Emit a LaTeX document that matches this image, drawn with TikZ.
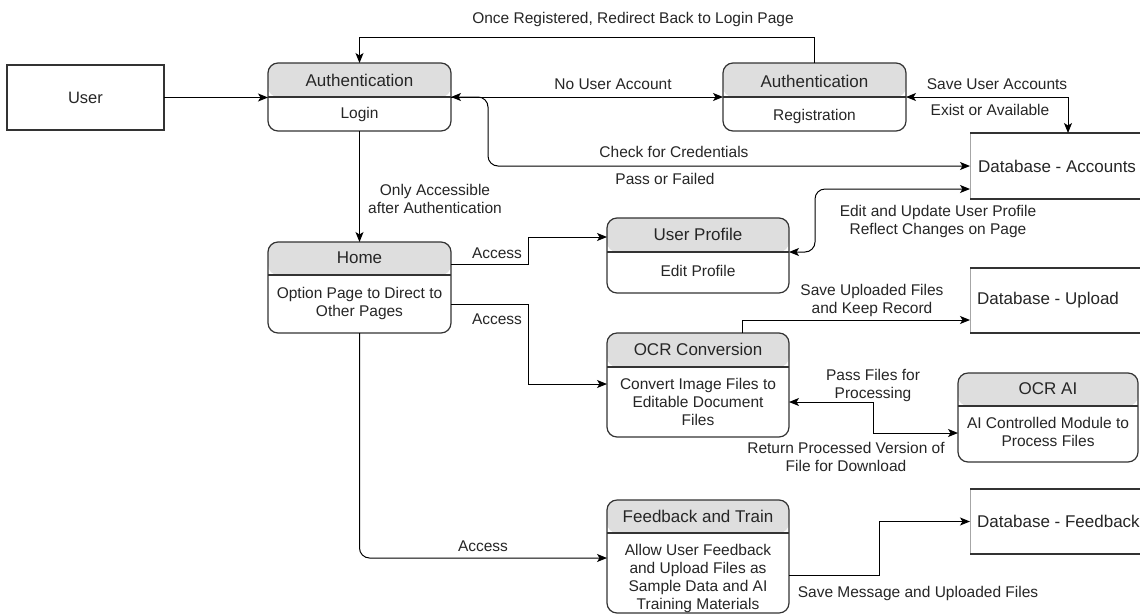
\documentclass[tikz,border=0pt]{standalone}
\usepackage{fontspec}
\setmainfont{Liberation Sans}
\usetikzlibrary{arrows.meta,calc}
\definecolor{hdrgray}{HTML}{DEDEDE}
\definecolor{ink}{HTML}{262626}
\definecolor{edgec}{HTML}{333333}
\tikzset{
  lbl/.style={font=\fontsize{15.5}{18}\selectfont, text=ink, inner sep=0pt, align=center},
  hdrtext/.style={font=\fontsize{17}{20}\selectfont, text=ink, inner sep=0pt},
  dbtext/.style={font=\fontsize{17}{20}\selectfont, text=ink, inner sep=0pt, anchor=west},
  procbox/.style={draw=edgec, line width=1.2pt, rounded corners=10pt, inner sep=0pt, outer sep=0pt,
    path picture={
      \fill[hdrgray] (path picture bounding box.north west) rectangle ([yshift=-#1 pt]path picture bounding box.north east);
      \draw[edgec, line width=1.2pt] ([yshift=-#1 pt]path picture bounding box.north west) -- ([yshift=-#1 pt]path picture bounding box.north east);
    }},
  userbox/.style={draw=edgec, line width=1.2pt, inner sep=0pt, outer sep=0pt},
  dbnode/.style={inner sep=0pt, outer sep=0pt},
  dbthick/.style={draw=edgec, line width=2.4pt},
  dbthin/.style={draw=gray!70, line width=0.8pt},
  conn/.style={draw=black, line width=1pt, -{Stealth[length=10pt,width=8pt,inset=2.5pt]}},
  biconn/.style={draw=black, line width=1pt, {Stealth[length=10pt,width=8pt,inset=2.5pt]}-{Stealth[length=10pt,width=8pt,inset=2.5pt]}},
}
\begin{document}
\begin{tikzpicture}[x=1pt,y=-1pt]
\useasboundingbox (0,0) rectangle (1140,614);
\clip (0,0) rectangle (1140,614);
\fill[white] (0,0) rectangle (1140,614);

% ---- boxes ----
\node[userbox, minimum width=157pt, minimum height=65pt] (user) at (85.5,97.5) {};
\node[font=\fontsize{16.5}{20}\selectfont, text=ink, inner sep=0pt] (user-t) at (85.5,97.5) {User};

\node[procbox=34, minimum width=183pt, minimum height=68pt] (login) at (359.5,97) {};
\node[hdrtext] (login-h) at (359.5,80) {Authentication};
\node[lbl] (login-b) at (359.5,114) {Login};

\node[procbox=34, minimum width=183pt, minimum height=68pt] (reg) at (814.5,97) {};
\node[hdrtext] (reg-h) at (814.5,81) {Authentication};
\node[lbl] (reg-b) at (814.5,116) {Registration};

\node[procbox=34, minimum width=182pt, minimum height=75pt] (prof) at (698,255.5) {};
\node[hdrtext] (prof-h) at (698,234.5) {User Profile};
\node[lbl] (prof-b) at (698,271) {Edit Profile};

\node[procbox=33, minimum width=183pt, minimum height=91pt] (home) at (359.5,287.5) {};
\node[hdrtext] (home-h) at (359.5,258) {Home};
\node[lbl] (home-b) at (359.5,303) {Option Page to Direct to\\Other Pages};

\node[procbox=34, minimum width=182pt, minimum height=104pt] (ocr) at (698,385) {};
\node[hdrtext] (ocr-h) at (698,349.5) {OCR Conversion};
\node[lbl] (ocr-b) at (698,402) {Convert Image Files to\\Editable Document\\Files};

\node[procbox=33, minimum width=180pt, minimum height=89pt] (ai) at (1048,417.5) {};
\node[hdrtext] (ai-h) at (1048,389) {OCR AI};
\node[lbl] (ai-b) at (1048,432) {AI Controlled Module to\\Process Files};

\node[procbox=33, minimum width=182pt, minimum height=113pt] (fb) at (698,556.5) {};
\node[hdrtext] (fb-h) at (698,516.5) {Feedback and Train};
\node[lbl] (fb-b) at (698,578) {Allow User Feedback\\and Upload Files as\\Sample Data and AI\\Training Materials};

% ---- data stores ----
\node[dbnode, minimum width=176pt, minimum height=66pt] (dbacc) at (1058,166) {};
\node[dbnode, minimum width=176pt, minimum height=65pt] (dbup) at (1058,300.5) {};
\node[dbnode, minimum width=176pt, minimum height=65pt] (dbfb) at (1058,521.5) {};
\foreach \d in {dbacc,dbup,dbfb}{
  \draw[dbthin] (\d.north west) -- (\d.south west);
  \draw[dbthick] (\d.north west) -- (\d.north east);
  \draw[dbthick] (\d.south west) -- (\d.south east);
}
\node[dbtext] (dbacc-t) at ([xshift=8pt]dbacc.west) {Database - Accounts};
\node[dbtext] (dbup-t) at ([xshift=7pt]dbup.west) {Database - Upload};
\node[dbtext] (dbfb-t) at ([xshift=7pt]dbfb.west) {Database - Feedback};

% ---- helper coordinates ----
\coordinate (topy) at (0,37);
\coordinate (chk) at (488,166);
\coordinate (sav) at (1068,133);
\coordinate (edt) at (815,189);
\coordinate (accx) at (528,0);
\coordinate (pasx) at (873,0);
\coordinate (msgx) at (879,0);

% ---- connectors ----
\draw[conn] (user.east) -- (user.east -| login.west);
\draw[conn] (reg.north) -- (reg.north |- topy) -| (login.north);
\draw[conn] (login.east) -- (reg.west);
\draw[biconn, rounded corners=10pt] (login.east) -| (chk) -- (dbacc.west);
\draw[biconn] (reg.east) -| (sav);
\draw[conn] (login.south) -- (home.north);
\draw[biconn, rounded corners=10pt] (dbacc.west |- edt) -- (edt) |- ($(prof.north east)+(0,34)$);
\draw[conn] ($(home.north east)+(0,22)$) -| (accx |- {$(prof.north west)+(0,19)$}) -- ($(prof.north west)+(0,19)$);
\draw[conn] ($(home.north east)+(0,62)$) -| (accx |- {$(ocr.north west)+(0,51)$}) -- ($(ocr.north west)+(0,51)$);
\draw[conn, rounded corners=10pt] (home.south) |- ($(fb.north west)+(0,58)$);
\draw[conn] ($(ocr.north west)+(135,0)$) |- ($(dbup.south west)+(0,-13)$);
\draw[biconn] ($(ocr.north east)+(0,69)$) -| (pasx |- {$(ai.north west)+(0,60)$}) -- ($(ai.north west)+(0,60)$);
\draw[conn] ($(fb.north east)+(0,75)$) -| (msgx |- dbfb.west) -- (dbfb.west);

% ---- connector labels ----
\node[lbl] (l-once) at (633,19) {Once Registered, Redirect Back to Login Page};
\node[lbl] (l-nua) at (613,84) {No User Account};
\node[lbl] (l-chk) at (674,152) {Check for Credentials};
\node[lbl] (l-pof) at (665,179) {Pass or Failed};
\node[lbl] (l-sua) at (997,84) {Save User Accounts};
\node[lbl] (l-eoa) at (990,110) {Exist or Available};
\node[lbl] (l-only) at (435,198.5) {Only Accessible\\after Authentication};
\node[lbl] (l-edit) at (938,221.5) {Edit and Update User Profile\\Reflect Changes on Page};
\node[lbl] (l-acc1) at (497,253) {Access};
\node[lbl] (l-acc2) at (497,319) {Access};
\node[lbl] (l-acc3) at (483,546) {Access};
\node[lbl] (l-sup) at (872,300.5) {Save Uploaded Files\\and Keep Record};
\node[lbl] (l-pass) at (873,385) {Pass Files for\\Processing};
\node[lbl] (l-ret) at (846,456.5) {Return Processed Version of\\File for Download};
\node[lbl] (l-msg) at (918,593) {Save Message and Uploaded Files};
\end{tikzpicture}
\end{document}
